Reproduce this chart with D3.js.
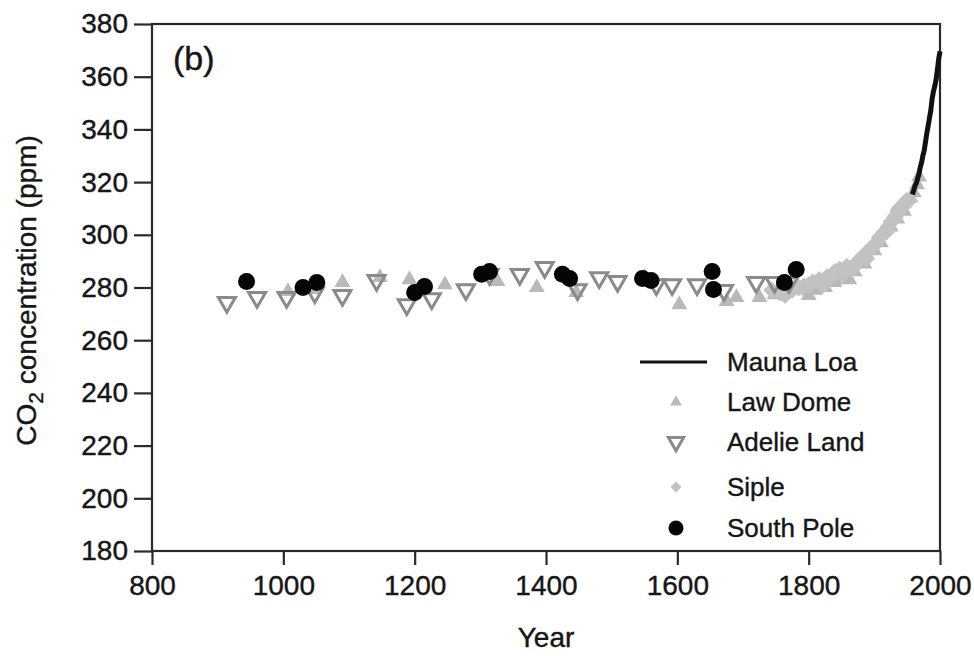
<!DOCTYPE html>
<html>
<head>
<meta charset="utf-8">
<script src="https://cdn.jsdelivr.net/npm/d3@7"></script>
<style>
  html, body { margin: 0; padding: 0; background: #fff; }
  svg { display: block; font-family: "Liberation Sans", Arial, Helvetica, sans-serif; }
</style>
</head>
<body>
<svg id="chart" width="974" height="656"></svg>
<script>
// ---------- DATA ----------
const xTicks = [800, 1000, 1200, 1400, 1600, 1800, 2000];
const yTicks = [180, 200, 220, 240, 260, 280, 300, 320, 340, 360, 380];

const maunaLoaYears = [1958,1960,1962,1964,1966,1968,1970,1972,1974,1976,1978,1980,1982,1984,1986,1988,1990,1992,1994,1996,1998,2000];
const maunaLoaPpm   = [315.3,316.9,318.6,319.6,321.4,323.1,325.7,327.5,330.2,332.0,335.4,338.7,341.4,344.4,347.2,351.6,354.4,356.4,358.8,362.6,366.7,369.6];

const lawDomeYears = [1007,1045,1090,1147,1192,1246,1326,1386,1446,1550,1603,1675,1690,1725,1748,1770,1793,1800,1810,1816,1825,1839,1840,1855,1862,1870,1885,1900,1910,1925,1935,1945,1955,1960,1965,1968];
const lawDomePpm   = [278.5,279.2,281.9,283.8,283.0,281.1,282.3,280.0,278.1,283.8,273.5,274.7,276.2,276.2,277.3,279.2,280.4,277.0,279.0,281.1,280.0,281.9,283.0,285.0,283.0,286.0,289.0,294.0,297.0,303.0,306.0,309.0,314.0,316.0,319.0,322.0];

const adelieYears = [914,960,1005,1048,1090,1142,1188,1226,1278,1314,1360,1398,1448,1481,1509,1568,1592,1630,1671,1720,1748,1770];
const adeliePpm   = [274.3,276.2,276.2,278.0,277.0,282.7,273.5,275.8,279.2,285.0,285.0,287.6,279.2,283.7,282.3,281.1,281.1,281.1,278.9,281.9,281.9,281.9];

const sipleYears = [1744,1756,1764,1775,1785,1791,1800,1806,1816,1822,1828,1834,1840,1847,1852,1858,1865,1870,1875,1879,1884,1888,1891,1896,1900,1903,1908,1912,1915,1918,1921,1926,1930,1932,1936,1938,1942,1945,1949,1953];
const siplePpm   = [279,278,277,279,280,280,281,282,283,281,284,284,286,287,285,288,287,288,290,291,292,291,294,295,296,297,299,300,301,301,303,305,306,307,309,310,311,311,313,313];

const southPoleYears = [944,1030,1051,1200,1215,1302,1314,1425,1436,1547,1560,1653,1655,1763,1781];
const southPolePpm   = [282.3,280.0,281.9,278.1,280.4,285.0,286.1,285.0,283.4,283.4,282.7,286.1,279.2,281.9,286.8];

const legendLabels = ["Mauna Loa", "Law Dome", "Adelie Land", "Siple", "South Pole"];

// ---------- LAYOUT ----------
const svg = d3.select("#chart");
const L = 152, R = 940, T = 24, B = 551;
const x = d3.scaleLinear().domain([800, 2000]).range([L, R]);
const y = d3.scaleLinear().domain([180, 380]).range([B, T]);
const axisColor = "#2a2a2a";
const textColor = "#161616";
const fontSize = 28;

// frame
svg.append("rect").attr("x", L).attr("y", T).attr("width", R - L).attr("height", B - T)
  .attr("fill", "none").attr("stroke", axisColor).attr("stroke-width", 2.2);

// axes
const xAxis = d3.axisBottom(x).tickValues(xTicks).tickSize(14).tickPadding(10).tickFormat(d3.format("d"));
const gx = svg.append("g").attr("transform", `translate(0,${B})`).call(xAxis);
gx.select(".domain").remove();
gx.selectAll("line").attr("stroke", axisColor).attr("stroke-width", 2.2);
gx.selectAll("text").attr("fill", textColor).attr("stroke", textColor).attr("stroke-width", 0.4)
  .style("font-size", fontSize + "px").style("font-family", "'Liberation Sans', Arial, sans-serif");

const yAxis = d3.axisLeft(y).tickValues(yTicks).tickSize(18).tickPadding(6).tickFormat(d3.format("d"));
const gy = svg.append("g").attr("transform", `translate(${L},0)`).call(yAxis);
gy.select(".domain").remove();
gy.selectAll("line").attr("stroke", axisColor).attr("stroke-width", 2.2);
gy.selectAll("text").attr("fill", textColor).attr("stroke", textColor).attr("stroke-width", 0.4)
  .style("font-size", fontSize + "px").style("font-family", "'Liberation Sans', Arial, sans-serif");

// axis titles
svg.append("text").attr("x", (L + R) / 2).attr("y", 647).attr("text-anchor", "middle")
  .attr("fill", textColor).attr("stroke", textColor).attr("stroke-width", 0.4)
  .style("font-size", fontSize + "px").text("Year");

const yt = svg.append("text").attr("transform", `translate(36,${(T + B) / 2 + 3}) rotate(-90)`)
  .attr("text-anchor", "middle").attr("fill", textColor).attr("stroke", textColor).attr("stroke-width", 0.4)
  .style("font-size", fontSize + "px");
yt.append("tspan").text("CO");
yt.append("tspan").attr("dy", 7).style("font-size", (fontSize * 0.75) + "px").text("2");
yt.append("tspan").attr("dy", -7).text(" concentration (ppm)");

// panel label
svg.append("text").attr("x", 173).attr("y", 70).attr("fill", textColor).attr("stroke", textColor).attr("stroke-width", 0.4)
  .style("font-size", "34px").text("(b)");

// ---------- MARKS ----------
const triUp = d3.symbol().type(d3.symbolTriangle);
const plot = svg.append("g");

// Law Dome: grey filled up-triangles
plot.selectAll(".law").data(lawDomeYears.map((d, i) => [d, lawDomePpm[i]])).join("path")
  .attr("class", "law")
  .attr("transform", d => `translate(${x(d[0])},${y(d[1])})`)
  .attr("d", triUp.size(110)())
  .attr("fill", "#b9b9b9");

// Siple: grey diamonds
plot.selectAll(".siple").data(sipleYears.map((d, i) => [d, siplePpm[i]])).join("path")
  .attr("class", "siple")
  .attr("transform", d => `translate(${x(d[0])},${y(d[1])}) rotate(45)`)
  .attr("d", d3.symbol().type(d3.symbolSquare).size(150)())
  .attr("fill", "#c2c2c2");

// Adelie Land: open down-triangles
plot.selectAll(".adelie").data(adelieYears.map((d, i) => [d, adeliePpm[i]])).join("path")
  .attr("class", "adelie")
  .attr("transform", d => `translate(${x(d[0])},${y(d[1])}) rotate(180)`)
  .attr("d", triUp.size(125)())
  .attr("fill", "none").attr("stroke", "#8a8a8a").attr("stroke-width", 3);

// South Pole: black circles
plot.selectAll(".sp").data(southPoleYears.map((d, i) => [d, southPolePpm[i]])).join("circle")
  .attr("class", "sp")
  .attr("cx", d => x(d[0])).attr("cy", d => y(d[1])).attr("r", 8.5)
  .attr("fill", "#050505");

// Mauna Loa: black line
const line = d3.line().x(d => x(d[0])).y(d => y(d[1]));
plot.append("path").datum(maunaLoaYears.map((d, i) => [d, maunaLoaPpm[i]]))
  .attr("d", line).attr("fill", "none").attr("stroke", "#111").attr("stroke-width", 5);

// ---------- LEGEND ----------
const lg = svg.append("g");
const lgY = [362, 402, 442, 487, 528];
const symX = 676, txtX = 727;
lg.append("line").attr("x1", 640).attr("x2", 707).attr("y1", lgY[0]).attr("y2", lgY[0])
  .attr("stroke", "#111").attr("stroke-width", 3);
lg.append("path").attr("transform", `translate(${symX},${lgY[1]})`)
  .attr("d", triUp.size(60)()).attr("fill", "#b9b9b9");
lg.append("path").attr("transform", `translate(${symX},${lgY[2]}) rotate(180)`)
  .attr("d", triUp.size(100)()).attr("fill", "none").attr("stroke", "#8a8a8a").attr("stroke-width", 3);
lg.append("path").attr("transform", `translate(${symX},${lgY[3]}) rotate(45)`)
  .attr("d", d3.symbol().type(d3.symbolSquare).size(60)()).attr("fill", "#c2c2c2");
lg.append("circle").attr("cx", symX).attr("cy", lgY[4]).attr("r", 7.5).attr("fill", "#050505");
lg.selectAll(".lt").data(legendLabels).join("text").attr("class", "lt")
  .attr("x", txtX).attr("y", (d, i) => lgY[i]).attr("dy", "0.35em")
  .attr("fill", textColor).attr("stroke", textColor).attr("stroke-width", 0.4)
  .style("font-size", "26px").text(d => d);
</script>
</body>
</html>
